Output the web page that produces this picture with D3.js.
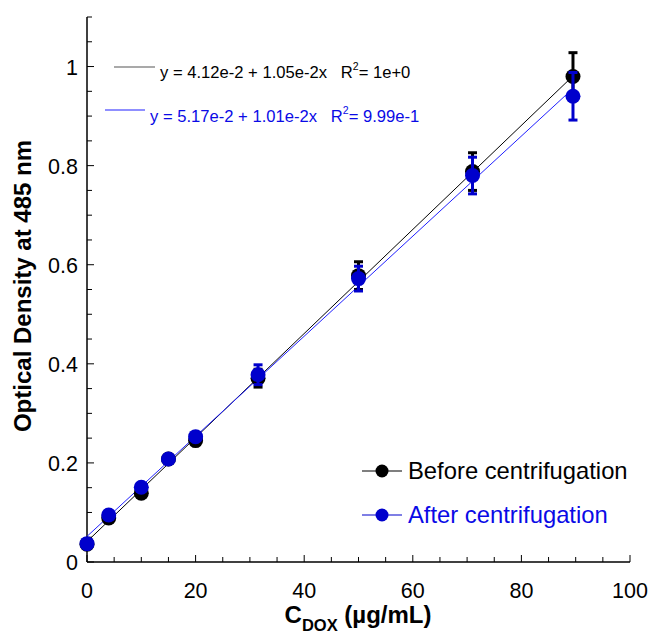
<!DOCTYPE html>
<html>
<head>
<meta charset="utf-8">
<script src="https://cdn.jsdelivr.net/npm/d3@7"></script>
<style>
body{margin:0;background:#fff;}
text{font-family:"Liberation Sans",Arial,sans-serif;}
</style>
</head>
<body>
<svg id="chart" width="651" height="639"></svg>
<script>
const concentrations = [0, 4, 10, 15, 20, 31.5, 50, 71, 89.5];
const beforeValues = [0.036, 0.089, 0.139, 0.208, 0.245, 0.371, 0.578, 0.788, 0.980];
const beforeErrors = [0.004, 0.006, 0.006, 0.008, 0.007, 0.018, 0.028, 0.038, 0.048];
const afterValues = [0.037, 0.095, 0.151, 0.208, 0.253, 0.378, 0.572, 0.780, 0.940];
const afterErrors = [0.004, 0.006, 0.006, 0.008, 0.008, 0.020, 0.025, 0.037, 0.048];
const fitBefore = {a: 0.0412, b: 0.0105};
const fitAfter = {a: 0.0517, b: 0.0101};
const xTicks = [0, 20, 40, 60, 80, 100];
const yTicks = [0, 0.2, 0.4, 0.6, 0.8, 1];
const seriesNames = ["Before centrifugation", "After centrifugation"];
const equations = ["y = 4.12e-2 + 1.05e-2x   R", "y = 5.17e-2 + 1.01e-2x   R"];
const r2Values = ["= 1e+0", "= 9.99e-1"];

const svg = d3.select("#chart");
const x = d3.scaleLinear().domain([0, 100]).range([87, 630]);
const y = d3.scaleLinear().domain([0, 1.1]).range([562, 17]);

const black = "#000000", blue = "#0000cc", blueLine = "#2020ff", blueText = "#0a0ae6";

// axes
const g = svg.append("g");
g.append("line").attr("x1", x(0)).attr("x2", x(0)).attr("y1", y(0)).attr("y2", y(1.1)).attr("stroke", "#000").attr("stroke-width", 1.5);
g.append("line").attr("x1", x(0)).attr("x2", x(100)).attr("y1", y(0)).attr("y2", y(0)).attr("stroke", "#000").attr("stroke-width", 1.5);

// x ticks (inward)
d3.range(0, 101, 5).forEach(v => {
  const major = v % 20 === 0;
  g.append("line").attr("x1", x(v)).attr("x2", x(v)).attr("y1", y(0)).attr("y2", y(0) - (major ? 7 : 5)).attr("stroke", "#000").attr("stroke-width", 1);
});
xTicks.forEach(v => {
  g.append("text").attr("x", x(v)).attr("y", y(0) + 36).attr("text-anchor", "middle").attr("font-size", 21.5).text(v);
});
// y ticks (inward)
d3.range(0, 23).map(i => i * 0.05).forEach((v, i) => {
  const major = i % 4 === 0;
  g.append("line").attr("x1", x(0)).attr("x2", x(0) + (major ? 7 : 5)).attr("y1", y(v)).attr("y2", y(v)).attr("stroke", "#000").attr("stroke-width", 1);
});
yTicks.forEach(v => {
  g.append("text").attr("x", x(0) - 9).attr("y", y(v) + 8).attr("text-anchor", "end").attr("font-size", 21.5).text(v === 0 ? "0" : d3.format("~g")(v));
});

// axis titles
svg.append("text").attr("transform", "translate(31,286) rotate(-90)").attr("text-anchor", "middle")
  .attr("font-size", 24).attr("font-weight", "bold").text("Optical Density at 485 nm");
const xl = svg.append("text").attr("x", 358).attr("y", 623).attr("text-anchor", "middle").attr("font-size", 24).attr("font-weight", "bold");
xl.append("tspan").text("C");
xl.append("tspan").attr("font-size", 16.5).attr("dy", 8).text("DOX");
xl.append("tspan").attr("dy", -8).text(" (µg/mL)");

// fit lines
const xMin = d3.min(concentrations), xMax = d3.max(concentrations);
[[fitBefore, black], [fitAfter, blueLine]].forEach(([f, c]) => {
  svg.append("line").attr("x1", x(xMin)).attr("y1", y(f.a + f.b * xMin))
    .attr("x2", x(xMax)).attr("y2", y(f.a + f.b * xMax)).attr("stroke", c).attr("stroke-width", 1);
});

function drawSeries(vals, errs, color) {
  const gg = svg.append("g");
  concentrations.forEach((cx, i) => {
    const px = x(cx);
    const top = y(vals[i] + errs[i]), bot = y(vals[i] - errs[i]);
    gg.append("line").attr("x1", px).attr("x2", px).attr("y1", top).attr("y2", bot).attr("stroke", color).attr("stroke-width", 3);
    [top, bot].forEach(yy => gg.append("line").attr("x1", px - 4.5).attr("x2", px + 4.5).attr("y1", yy).attr("y2", yy).attr("stroke", color).attr("stroke-width", 3));
  });
  gg.selectAll("circle").data(vals).join("circle")
    .attr("cx", (d, i) => x(concentrations[i])).attr("cy", d => y(d)).attr("r", 7.5).attr("fill", color);
}
drawSeries(beforeValues, beforeErrors, black);
drawSeries(afterValues, afterErrors, blue);

// equation legend
const eq = [[114, 155, 67, 160, 78, black, "#555"], [105, 145, 110, 150, 121.5, blueText, blueLine]];
eq.forEach((e, i) => {
  svg.append("line").attr("x1", e[0]).attr("x2", e[1]).attr("y1", e[2]).attr("y2", e[2]).attr("stroke", e[6]).attr("stroke-width", 1.2);
  const t = svg.append("text").attr("x", e[3]).attr("y", e[4]).attr("font-size", 16.6).attr("fill", e[5]).attr("xml:space", "preserve");
  t.append("tspan").text(equations[i]);
  t.append("tspan").attr("font-size", 10.5).attr("dy", -8).text("2");
  t.append("tspan").attr("dy", 8).text(r2Values[i]);
});

// series legend
[[black, black, 471], [blue, blueText, 515]].forEach((l, i) => {
  svg.append("line").attr("x1", 362).attr("x2", 402).attr("y1", l[2]).attr("y2", l[2]).attr("stroke", l[0]).attr("stroke-width", 1.2);
  svg.append("circle").attr("cx", 382).attr("cy", l[2]).attr("r", 6.5).attr("fill", l[0]);
  svg.append("text").attr("x", 408).attr("y", l[2] + 8).attr("font-size", 23.8).attr("fill", l[1]).text(seriesNames[i]);
});
</script>
</body>
</html>
